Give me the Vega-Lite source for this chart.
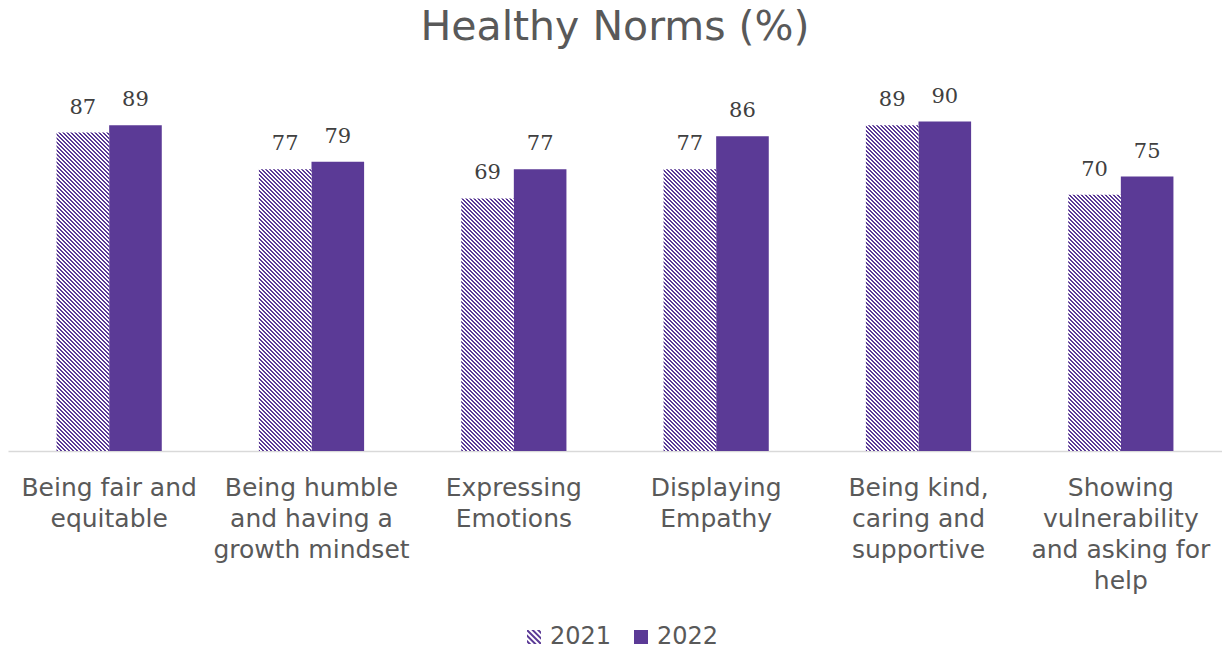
{
  "$schema": "https://vega.github.io/schema/vega-lite/v6.json",
  "width": 1214,
  "height": 366,
  "autosize": {"type": "none"},
  "padding": {"left": 8, "top": 85, "right": 0, "bottom": 199},
  "background": "white",
  "title": {"text": "Healthy Norms (%)", "font": "DejaVu Sans", "fontSize": 41, "fontWeight": "normal", "color": "#595959", "anchor": "middle", "baseline": "alphabetic", "offset": 4},
  "params": [
    {"name": "stripes", "value": [
{"offset":0,"color":"#5B3A96"},{"offset":0.005,"color":"#5B3A96"},{"offset":0.005,"color":"#fff"},{"offset":0.01,"color":"#fff"},
{"offset":0.01,"color":"#5B3A96"},{"offset":0.015,"color":"#5B3A96"},{"offset":0.015,"color":"#fff"},{"offset":0.02,"color":"#fff"},
{"offset":0.02,"color":"#5B3A96"},{"offset":0.025,"color":"#5B3A96"},{"offset":0.025,"color":"#fff"},{"offset":0.03,"color":"#fff"},
{"offset":0.03,"color":"#5B3A96"},{"offset":0.035,"color":"#5B3A96"},{"offset":0.035,"color":"#fff"},{"offset":0.04,"color":"#fff"},
{"offset":0.04,"color":"#5B3A96"},{"offset":0.045,"color":"#5B3A96"},{"offset":0.045,"color":"#fff"},{"offset":0.05,"color":"#fff"},
{"offset":0.05,"color":"#5B3A96"},{"offset":0.055,"color":"#5B3A96"},{"offset":0.055,"color":"#fff"},{"offset":0.06,"color":"#fff"},
{"offset":0.06,"color":"#5B3A96"},{"offset":0.065,"color":"#5B3A96"},{"offset":0.065,"color":"#fff"},{"offset":0.07,"color":"#fff"},
{"offset":0.07,"color":"#5B3A96"},{"offset":0.075,"color":"#5B3A96"},{"offset":0.075,"color":"#fff"},{"offset":0.08,"color":"#fff"},
{"offset":0.08,"color":"#5B3A96"},{"offset":0.085,"color":"#5B3A96"},{"offset":0.085,"color":"#fff"},{"offset":0.09,"color":"#fff"},
{"offset":0.09,"color":"#5B3A96"},{"offset":0.095,"color":"#5B3A96"},{"offset":0.095,"color":"#fff"},{"offset":0.1,"color":"#fff"},
{"offset":0.1,"color":"#5B3A96"},{"offset":0.105,"color":"#5B3A96"},{"offset":0.105,"color":"#fff"},{"offset":0.11,"color":"#fff"},
{"offset":0.11,"color":"#5B3A96"},{"offset":0.115,"color":"#5B3A96"},{"offset":0.115,"color":"#fff"},{"offset":0.12,"color":"#fff"},
{"offset":0.12,"color":"#5B3A96"},{"offset":0.125,"color":"#5B3A96"},{"offset":0.125,"color":"#fff"},{"offset":0.13,"color":"#fff"},
{"offset":0.13,"color":"#5B3A96"},{"offset":0.135,"color":"#5B3A96"},{"offset":0.135,"color":"#fff"},{"offset":0.14,"color":"#fff"},
{"offset":0.14,"color":"#5B3A96"},{"offset":0.145,"color":"#5B3A96"},{"offset":0.145,"color":"#fff"},{"offset":0.15,"color":"#fff"},
{"offset":0.15,"color":"#5B3A96"},{"offset":0.155,"color":"#5B3A96"},{"offset":0.155,"color":"#fff"},{"offset":0.16,"color":"#fff"},
{"offset":0.16,"color":"#5B3A96"},{"offset":0.165,"color":"#5B3A96"},{"offset":0.165,"color":"#fff"},{"offset":0.17,"color":"#fff"},
{"offset":0.17,"color":"#5B3A96"},{"offset":0.175,"color":"#5B3A96"},{"offset":0.175,"color":"#fff"},{"offset":0.18,"color":"#fff"},
{"offset":0.18,"color":"#5B3A96"},{"offset":0.185,"color":"#5B3A96"},{"offset":0.185,"color":"#fff"},{"offset":0.19,"color":"#fff"},
{"offset":0.19,"color":"#5B3A96"},{"offset":0.195,"color":"#5B3A96"},{"offset":0.195,"color":"#fff"},{"offset":0.2,"color":"#fff"},
{"offset":0.2,"color":"#5B3A96"},{"offset":0.205,"color":"#5B3A96"},{"offset":0.205,"color":"#fff"},{"offset":0.21,"color":"#fff"},
{"offset":0.21,"color":"#5B3A96"},{"offset":0.215,"color":"#5B3A96"},{"offset":0.215,"color":"#fff"},{"offset":0.22,"color":"#fff"},
{"offset":0.22,"color":"#5B3A96"},{"offset":0.225,"color":"#5B3A96"},{"offset":0.225,"color":"#fff"},{"offset":0.23,"color":"#fff"},
{"offset":0.23,"color":"#5B3A96"},{"offset":0.235,"color":"#5B3A96"},{"offset":0.235,"color":"#fff"},{"offset":0.24,"color":"#fff"},
{"offset":0.24,"color":"#5B3A96"},{"offset":0.245,"color":"#5B3A96"},{"offset":0.245,"color":"#fff"},{"offset":0.25,"color":"#fff"},
{"offset":0.25,"color":"#5B3A96"},{"offset":0.255,"color":"#5B3A96"},{"offset":0.255,"color":"#fff"},{"offset":0.26,"color":"#fff"},
{"offset":0.26,"color":"#5B3A96"},{"offset":0.265,"color":"#5B3A96"},{"offset":0.265,"color":"#fff"},{"offset":0.27,"color":"#fff"},
{"offset":0.27,"color":"#5B3A96"},{"offset":0.275,"color":"#5B3A96"},{"offset":0.275,"color":"#fff"},{"offset":0.28,"color":"#fff"},
{"offset":0.28,"color":"#5B3A96"},{"offset":0.285,"color":"#5B3A96"},{"offset":0.285,"color":"#fff"},{"offset":0.29,"color":"#fff"},
{"offset":0.29,"color":"#5B3A96"},{"offset":0.295,"color":"#5B3A96"},{"offset":0.295,"color":"#fff"},{"offset":0.3,"color":"#fff"},
{"offset":0.3,"color":"#5B3A96"},{"offset":0.305,"color":"#5B3A96"},{"offset":0.305,"color":"#fff"},{"offset":0.31,"color":"#fff"},
{"offset":0.31,"color":"#5B3A96"},{"offset":0.315,"color":"#5B3A96"},{"offset":0.315,"color":"#fff"},{"offset":0.32,"color":"#fff"},
{"offset":0.32,"color":"#5B3A96"},{"offset":0.325,"color":"#5B3A96"},{"offset":0.325,"color":"#fff"},{"offset":0.33,"color":"#fff"},
{"offset":0.33,"color":"#5B3A96"},{"offset":0.335,"color":"#5B3A96"},{"offset":0.335,"color":"#fff"},{"offset":0.34,"color":"#fff"},
{"offset":0.34,"color":"#5B3A96"},{"offset":0.345,"color":"#5B3A96"},{"offset":0.345,"color":"#fff"},{"offset":0.35,"color":"#fff"},
{"offset":0.35,"color":"#5B3A96"},{"offset":0.355,"color":"#5B3A96"},{"offset":0.355,"color":"#fff"},{"offset":0.36,"color":"#fff"},
{"offset":0.36,"color":"#5B3A96"},{"offset":0.365,"color":"#5B3A96"},{"offset":0.365,"color":"#fff"},{"offset":0.37,"color":"#fff"},
{"offset":0.37,"color":"#5B3A96"},{"offset":0.375,"color":"#5B3A96"},{"offset":0.375,"color":"#fff"},{"offset":0.38,"color":"#fff"},
{"offset":0.38,"color":"#5B3A96"},{"offset":0.385,"color":"#5B3A96"},{"offset":0.385,"color":"#fff"},{"offset":0.39,"color":"#fff"},
{"offset":0.39,"color":"#5B3A96"},{"offset":0.395,"color":"#5B3A96"},{"offset":0.395,"color":"#fff"},{"offset":0.4,"color":"#fff"},
{"offset":0.4,"color":"#5B3A96"},{"offset":0.405,"color":"#5B3A96"},{"offset":0.405,"color":"#fff"},{"offset":0.41,"color":"#fff"},
{"offset":0.41,"color":"#5B3A96"},{"offset":0.415,"color":"#5B3A96"},{"offset":0.415,"color":"#fff"},{"offset":0.42,"color":"#fff"},
{"offset":0.42,"color":"#5B3A96"},{"offset":0.425,"color":"#5B3A96"},{"offset":0.425,"color":"#fff"},{"offset":0.43,"color":"#fff"},
{"offset":0.43,"color":"#5B3A96"},{"offset":0.435,"color":"#5B3A96"},{"offset":0.435,"color":"#fff"},{"offset":0.44,"color":"#fff"},
{"offset":0.44,"color":"#5B3A96"},{"offset":0.445,"color":"#5B3A96"},{"offset":0.445,"color":"#fff"},{"offset":0.45,"color":"#fff"},
{"offset":0.45,"color":"#5B3A96"},{"offset":0.455,"color":"#5B3A96"},{"offset":0.455,"color":"#fff"},{"offset":0.46,"color":"#fff"},
{"offset":0.46,"color":"#5B3A96"},{"offset":0.465,"color":"#5B3A96"},{"offset":0.465,"color":"#fff"},{"offset":0.47,"color":"#fff"},
{"offset":0.47,"color":"#5B3A96"},{"offset":0.475,"color":"#5B3A96"},{"offset":0.475,"color":"#fff"},{"offset":0.48,"color":"#fff"},
{"offset":0.48,"color":"#5B3A96"},{"offset":0.485,"color":"#5B3A96"},{"offset":0.485,"color":"#fff"},{"offset":0.49,"color":"#fff"},
{"offset":0.49,"color":"#5B3A96"},{"offset":0.495,"color":"#5B3A96"},{"offset":0.495,"color":"#fff"},{"offset":0.5,"color":"#fff"},
{"offset":0.5,"color":"#5B3A96"},{"offset":0.505,"color":"#5B3A96"},{"offset":0.505,"color":"#fff"},{"offset":0.51,"color":"#fff"},
{"offset":0.51,"color":"#5B3A96"},{"offset":0.515,"color":"#5B3A96"},{"offset":0.515,"color":"#fff"},{"offset":0.52,"color":"#fff"},
{"offset":0.52,"color":"#5B3A96"},{"offset":0.525,"color":"#5B3A96"},{"offset":0.525,"color":"#fff"},{"offset":0.53,"color":"#fff"},
{"offset":0.53,"color":"#5B3A96"},{"offset":0.535,"color":"#5B3A96"},{"offset":0.535,"color":"#fff"},{"offset":0.54,"color":"#fff"},
{"offset":0.54,"color":"#5B3A96"},{"offset":0.545,"color":"#5B3A96"},{"offset":0.545,"color":"#fff"},{"offset":0.55,"color":"#fff"},
{"offset":0.55,"color":"#5B3A96"},{"offset":0.555,"color":"#5B3A96"},{"offset":0.555,"color":"#fff"},{"offset":0.56,"color":"#fff"},
{"offset":0.56,"color":"#5B3A96"},{"offset":0.565,"color":"#5B3A96"},{"offset":0.565,"color":"#fff"},{"offset":0.57,"color":"#fff"},
{"offset":0.57,"color":"#5B3A96"},{"offset":0.575,"color":"#5B3A96"},{"offset":0.575,"color":"#fff"},{"offset":0.58,"color":"#fff"},
{"offset":0.58,"color":"#5B3A96"},{"offset":0.585,"color":"#5B3A96"},{"offset":0.585,"color":"#fff"},{"offset":0.59,"color":"#fff"},
{"offset":0.59,"color":"#5B3A96"},{"offset":0.595,"color":"#5B3A96"},{"offset":0.595,"color":"#fff"},{"offset":0.6,"color":"#fff"},
{"offset":0.6,"color":"#5B3A96"},{"offset":0.605,"color":"#5B3A96"},{"offset":0.605,"color":"#fff"},{"offset":0.61,"color":"#fff"},
{"offset":0.61,"color":"#5B3A96"},{"offset":0.615,"color":"#5B3A96"},{"offset":0.615,"color":"#fff"},{"offset":0.62,"color":"#fff"},
{"offset":0.62,"color":"#5B3A96"},{"offset":0.625,"color":"#5B3A96"},{"offset":0.625,"color":"#fff"},{"offset":0.63,"color":"#fff"},
{"offset":0.63,"color":"#5B3A96"},{"offset":0.635,"color":"#5B3A96"},{"offset":0.635,"color":"#fff"},{"offset":0.64,"color":"#fff"},
{"offset":0.64,"color":"#5B3A96"},{"offset":0.645,"color":"#5B3A96"},{"offset":0.645,"color":"#fff"},{"offset":0.65,"color":"#fff"},
{"offset":0.65,"color":"#5B3A96"},{"offset":0.655,"color":"#5B3A96"},{"offset":0.655,"color":"#fff"},{"offset":0.66,"color":"#fff"},
{"offset":0.66,"color":"#5B3A96"},{"offset":0.665,"color":"#5B3A96"},{"offset":0.665,"color":"#fff"},{"offset":0.67,"color":"#fff"},
{"offset":0.67,"color":"#5B3A96"},{"offset":0.675,"color":"#5B3A96"},{"offset":0.675,"color":"#fff"},{"offset":0.68,"color":"#fff"},
{"offset":0.68,"color":"#5B3A96"},{"offset":0.685,"color":"#5B3A96"},{"offset":0.685,"color":"#fff"},{"offset":0.69,"color":"#fff"},
{"offset":0.69,"color":"#5B3A96"},{"offset":0.695,"color":"#5B3A96"},{"offset":0.695,"color":"#fff"},{"offset":0.7,"color":"#fff"},
{"offset":0.7,"color":"#5B3A96"},{"offset":0.705,"color":"#5B3A96"},{"offset":0.705,"color":"#fff"},{"offset":0.71,"color":"#fff"},
{"offset":0.71,"color":"#5B3A96"},{"offset":0.715,"color":"#5B3A96"},{"offset":0.715,"color":"#fff"},{"offset":0.72,"color":"#fff"},
{"offset":0.72,"color":"#5B3A96"},{"offset":0.725,"color":"#5B3A96"},{"offset":0.725,"color":"#fff"},{"offset":0.73,"color":"#fff"},
{"offset":0.73,"color":"#5B3A96"},{"offset":0.735,"color":"#5B3A96"},{"offset":0.735,"color":"#fff"},{"offset":0.74,"color":"#fff"},
{"offset":0.74,"color":"#5B3A96"},{"offset":0.745,"color":"#5B3A96"},{"offset":0.745,"color":"#fff"},{"offset":0.75,"color":"#fff"},
{"offset":0.75,"color":"#5B3A96"},{"offset":0.755,"color":"#5B3A96"},{"offset":0.755,"color":"#fff"},{"offset":0.76,"color":"#fff"},
{"offset":0.76,"color":"#5B3A96"},{"offset":0.765,"color":"#5B3A96"},{"offset":0.765,"color":"#fff"},{"offset":0.77,"color":"#fff"},
{"offset":0.77,"color":"#5B3A96"},{"offset":0.775,"color":"#5B3A96"},{"offset":0.775,"color":"#fff"},{"offset":0.78,"color":"#fff"},
{"offset":0.78,"color":"#5B3A96"},{"offset":0.785,"color":"#5B3A96"},{"offset":0.785,"color":"#fff"},{"offset":0.79,"color":"#fff"},
{"offset":0.79,"color":"#5B3A96"},{"offset":0.795,"color":"#5B3A96"},{"offset":0.795,"color":"#fff"},{"offset":0.8,"color":"#fff"},
{"offset":0.8,"color":"#5B3A96"},{"offset":0.805,"color":"#5B3A96"},{"offset":0.805,"color":"#fff"},{"offset":0.81,"color":"#fff"},
{"offset":0.81,"color":"#5B3A96"},{"offset":0.815,"color":"#5B3A96"},{"offset":0.815,"color":"#fff"},{"offset":0.82,"color":"#fff"},
{"offset":0.82,"color":"#5B3A96"},{"offset":0.825,"color":"#5B3A96"},{"offset":0.825,"color":"#fff"},{"offset":0.83,"color":"#fff"},
{"offset":0.83,"color":"#5B3A96"},{"offset":0.835,"color":"#5B3A96"},{"offset":0.835,"color":"#fff"},{"offset":0.84,"color":"#fff"},
{"offset":0.84,"color":"#5B3A96"},{"offset":0.845,"color":"#5B3A96"},{"offset":0.845,"color":"#fff"},{"offset":0.85,"color":"#fff"},
{"offset":0.85,"color":"#5B3A96"},{"offset":0.855,"color":"#5B3A96"},{"offset":0.855,"color":"#fff"},{"offset":0.86,"color":"#fff"},
{"offset":0.86,"color":"#5B3A96"},{"offset":0.865,"color":"#5B3A96"},{"offset":0.865,"color":"#fff"},{"offset":0.87,"color":"#fff"},
{"offset":0.87,"color":"#5B3A96"},{"offset":0.875,"color":"#5B3A96"},{"offset":0.875,"color":"#fff"},{"offset":0.88,"color":"#fff"},
{"offset":0.88,"color":"#5B3A96"},{"offset":0.885,"color":"#5B3A96"},{"offset":0.885,"color":"#fff"},{"offset":0.89,"color":"#fff"},
{"offset":0.89,"color":"#5B3A96"},{"offset":0.895,"color":"#5B3A96"},{"offset":0.895,"color":"#fff"},{"offset":0.9,"color":"#fff"},
{"offset":0.9,"color":"#5B3A96"},{"offset":0.905,"color":"#5B3A96"},{"offset":0.905,"color":"#fff"},{"offset":0.91,"color":"#fff"},
{"offset":0.91,"color":"#5B3A96"},{"offset":0.915,"color":"#5B3A96"},{"offset":0.915,"color":"#fff"},{"offset":0.92,"color":"#fff"},
{"offset":0.92,"color":"#5B3A96"},{"offset":0.925,"color":"#5B3A96"},{"offset":0.925,"color":"#fff"},{"offset":0.93,"color":"#fff"},
{"offset":0.93,"color":"#5B3A96"},{"offset":0.935,"color":"#5B3A96"},{"offset":0.935,"color":"#fff"},{"offset":0.94,"color":"#fff"},
{"offset":0.94,"color":"#5B3A96"},{"offset":0.945,"color":"#5B3A96"},{"offset":0.945,"color":"#fff"},{"offset":0.95,"color":"#fff"},
{"offset":0.95,"color":"#5B3A96"},{"offset":0.955,"color":"#5B3A96"},{"offset":0.955,"color":"#fff"},{"offset":0.96,"color":"#fff"},
{"offset":0.96,"color":"#5B3A96"},{"offset":0.965,"color":"#5B3A96"},{"offset":0.965,"color":"#fff"},{"offset":0.97,"color":"#fff"},
{"offset":0.97,"color":"#5B3A96"},{"offset":0.975,"color":"#5B3A96"},{"offset":0.975,"color":"#fff"},{"offset":0.98,"color":"#fff"},
{"offset":0.98,"color":"#5B3A96"},{"offset":0.985,"color":"#5B3A96"},{"offset":0.985,"color":"#fff"},{"offset":0.99,"color":"#fff"},
{"offset":0.99,"color":"#5B3A96"},{"offset":0.995,"color":"#5B3A96"},{"offset":0.995,"color":"#fff"},{"offset":1,"color":"#fff"}
    ]}
  ],
  "data": {"values": [
    {"cat": "Being fair and\nequitable", "year": "2021", "pct": 87},
    {"cat": "Being fair and\nequitable", "year": "2022", "pct": 89},
    {"cat": "Being humble\nand having a\ngrowth mindset", "year": "2021", "pct": 77},
    {"cat": "Being humble\nand having a\ngrowth mindset", "year": "2022", "pct": 79},
    {"cat": "Expressing\nEmotions", "year": "2021", "pct": 69},
    {"cat": "Expressing\nEmotions", "year": "2022", "pct": 77},
    {"cat": "Displaying\nEmpathy", "year": "2021", "pct": 77},
    {"cat": "Displaying\nEmpathy", "year": "2022", "pct": 86},
    {"cat": "Being kind,\ncaring and\nsupportive", "year": "2021", "pct": 89},
    {"cat": "Being kind,\ncaring and\nsupportive", "year": "2022", "pct": 90},
    {"cat": "Showing\nvulnerability\nand asking for\nhelp", "year": "2021", "pct": 70},
    {"cat": "Showing\nvulnerability\nand asking for\nhelp", "year": "2022", "pct": 75}
  ]},
  "encoding": {
    "x": {"field": "cat", "type": "nominal", "sort": null,
      "scale": {"paddingInner": 0.48, "paddingOuter": 0.24},
      "axis": {"title": null, "labelAngle": 0, "ticks": false, "domainColor": "#D9D9D9", "domainWidth": 1.5,
        "labelFont": "DejaVu Sans", "labelFontSize": 25, "labelColor": "#595959", "labelLineHeight": 31,
        "labelPadding": 24, "labelLimit": 400, "labelOverlap": false, "labelBound": false,
        "labelExpr": "split(datum.label, '\\n')"}},
    "xOffset": {"field": "year", "type": "nominal", "scale": {"paddingInner": 0, "paddingOuter": 0}},
    "y": {"field": "pct", "type": "quantitative", "scale": {"domain": [0, 100], "nice": false}, "axis": null}
  },
  "layer": [
    {
      "mark": {"type": "bar"},
      "encoding": {
        "fill": {"condition": {"test": "datum.year == '2021'", "value": "#FFFFFF"}, "value": "#5B3A96"}
      }
    },
    {
      "transform": [{"filter": "datum.year == '2021'"}],
      "mark": {"type": "bar",
        "fill": {"expr": "{gradient: 'linear', x1: 0, y1: 1, x2: 400*bandwidth('xOffset')/(pow(bandwidth('xOffset'),2)+pow(scale('y',0)-scale('y',datum.pct),2)), y2: 1-400*(scale('y',0)-scale('y',datum.pct))/(pow(bandwidth('xOffset'),2)+pow(scale('y',0)-scale('y',datum.pct),2)), stops: stripes}"}}
    },
    {
      "mark": {"type": "point", "filled": true, "color": "#5B3A96", "opacity": 0},
      "encoding": {
        "shape": {"field": "year", "type": "nominal",
          "scale": {"domain": ["2021", "2022"], "range": [
            "M-1,-0.8L-1,-1L-0.8,-1L1,0.8L1,1L0.8,1Z M-0.4,-1L0,-1L1,0L1,0.4Z M0.4,-1L0.8,-1L1,-0.8L1,-0.4Z M-1,-0.4L-1,0L0,1L0.4,1Z M-1,0.4L-1,0.8L-0.8,1L-0.4,1Z",
            "square"]},
          "legend": {"orient": "none", "legendX": 514, "legendY": 540, "direction": "horizontal", "title": null,
            "symbolSize": 196, "symbolStrokeWidth": 0, "symbolOpacity": 1, "symbolFillColor": "#5B3A96",
            "labelFont": "DejaVu Sans", "labelFontSize": 24, "labelColor": "#595959", "labelOffset": 4,
            "columnPadding": 17, "padding": 0}}
      }
    },
    {
      "mark": {"type": "text", "font": "DejaVu Serif", "fontSize": 21, "fill": "#404040", "baseline": "alphabetic", "dy": -19},
      "encoding": {"text": {"field": "pct", "type": "quantitative"}}
    }
  ],
  "config": {"view": {"stroke": null}}
}
